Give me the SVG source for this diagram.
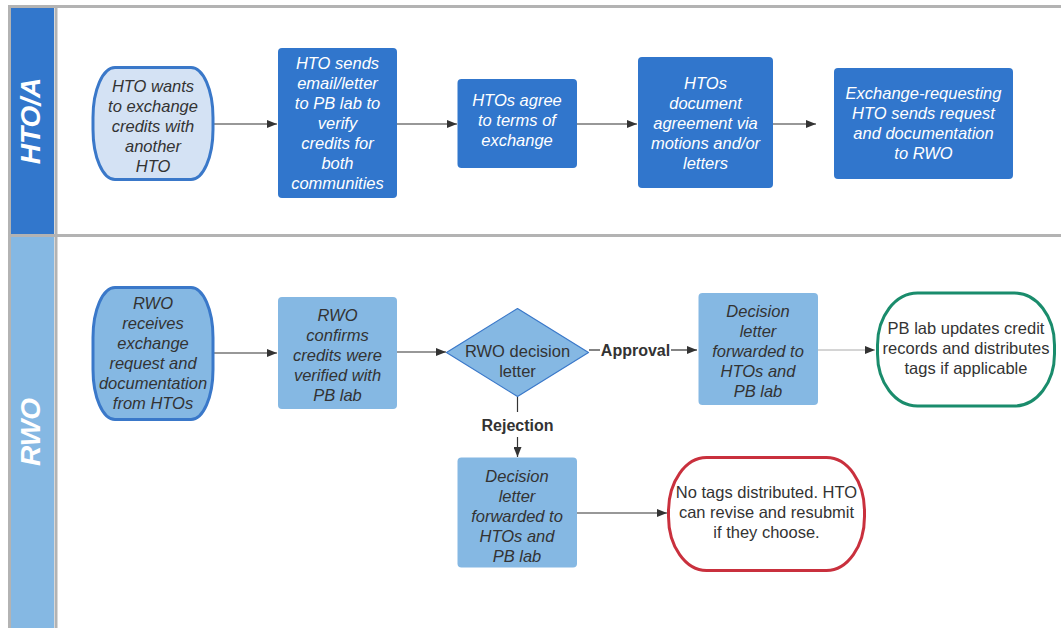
<svg xmlns="http://www.w3.org/2000/svg" width="1061" height="628" viewBox="0 0 1061 628">
<style>
.t{font-family:"Liberation Sans",Arial,sans-serif;font-size:16.5px;text-anchor:middle}
.i{font-style:italic}
.w{fill:#ffffff}
.d{fill:#333333}
.lab{font-family:"Liberation Sans",Arial,sans-serif;font-size:16px;font-weight:bold;fill:#333333;text-anchor:middle}
.hdr{font-family:"Liberation Sans",Arial,sans-serif;font-size:28px;font-weight:bold;font-style:italic;fill:#ffffff;text-anchor:middle}
.dark{fill:#3176cc}
.light{fill:#85b8e3}
.c{stroke:#333333;stroke-width:1.2;fill:none}
</style>
<defs>
<marker id="ah" viewBox="0 0 10 8" refX="10" refY="4" markerWidth="10" markerHeight="8" markerUnits="userSpaceOnUse" orient="auto">
<path d="M0,0 L10,4 L0,8 Z" fill="#333333"/>
</marker>
</defs>
<rect width="1061" height="628" fill="#ffffff"/>
<g id="lanes">
<rect x="9.5" y="6.5" width="1060" height="640" fill="none" stroke="#b3b3b3" stroke-width="3"/>
<rect x="11" y="8" width="43" height="226" fill="#3277cc"/>
<rect x="11" y="237" width="43" height="400" fill="#85b8e3"/>
<line x1="56" y1="8" x2="56" y2="628" stroke="#b3b3b3" stroke-width="3"/>
<line x1="9" y1="235.5" x2="1061" y2="235.5" stroke="#b3b3b3" stroke-width="3"/>
<text class="hdr" transform="translate(40,121) rotate(-90)">HTO/A</text>
<text class="hdr" transform="translate(40,432) rotate(-90)">RWO</text>
</g>
<g id="connectors">
<line class="c" x1="213" y1="124" x2="277" y2="124" marker-end="url(#ah)"/>
<line class="c" x1="397" y1="124" x2="457" y2="124" marker-end="url(#ah)"/>
<line class="c" x1="577" y1="124" x2="637" y2="124" marker-end="url(#ah)"/>
<line class="c" x1="773" y1="124" x2="816" y2="124" marker-end="url(#ah)"/>
<line class="c" x1="213" y1="353" x2="277" y2="353" marker-end="url(#ah)"/>
<line class="c" x1="397" y1="352" x2="446" y2="352" marker-end="url(#ah)"/>
<line class="c" x1="589" y1="350" x2="600" y2="350"/>
<line class="c" x1="671" y1="350" x2="697" y2="350" marker-end="url(#ah)"/>
<text class="lab" x="635.5" y="356">Approval</text>
<line x1="818" y1="350" x2="875" y2="350" stroke="#aaaaaa" stroke-width="1" marker-end="url(#ah)"/>
<line class="c" x1="517.5" y1="397" x2="517.5" y2="412"/>
<text class="lab" x="517.5" y="431">Rejection</text>
<line class="c" x1="517.5" y1="437" x2="517.5" y2="457" marker-end="url(#ah)"/>
<line class="c" x1="577" y1="513" x2="667" y2="513" marker-end="url(#ah)"/>
</g>
<g id="n1">
<rect x="93" y="67.5" width="120" height="112" rx="22" ry="50" fill="#d4e2f4" stroke="#3a78c9" stroke-width="3"/>
<text class="t i d" x="153" y="92">HTO wants<tspan x="153" dy="20">to exchange</tspan><tspan x="153" dy="20">credits with</tspan><tspan x="153" dy="20">another</tspan><tspan x="153" dy="20">HTO</tspan></text>
</g>
<g id="n2">
<rect class="dark" x="278" y="48" width="119" height="150" rx="4"/>
<text class="t i w" x="337.5" y="69">HTO sends<tspan x="337.5" dy="20">email/letter</tspan><tspan x="337.5" dy="20">to PB lab to</tspan><tspan x="337.5" dy="20">verify</tspan><tspan x="337.5" dy="20">credits for</tspan><tspan x="337.5" dy="20">both</tspan><tspan x="337.5" dy="20">communities</tspan></text>
</g>
<g id="n3">
<rect class="dark" x="457.5" y="79" width="119.5" height="89" rx="4"/>
<text class="t i w" x="517" y="106">HTOs agree<tspan x="517" dy="20">to terms of</tspan><tspan x="517" dy="20">exchange</tspan></text>
</g>
<g id="n4">
<rect class="dark" x="638" y="57" width="135" height="131" rx="4"/>
<text class="t i w" x="705.5" y="89">HTOs<tspan x="705.5" dy="20">document</tspan><tspan x="705.5" dy="20">agreement via</tspan><tspan x="705.5" dy="20">motions and/or</tspan><tspan x="705.5" dy="20">letters</tspan></text>
</g>
<g id="n5">
<rect class="dark" x="834" y="68" width="179" height="111" rx="4"/>
<text class="t i w" x="923.5" y="99">Exchange-requesting<tspan x="923.5" dy="20">HTO sends request</tspan><tspan x="923.5" dy="20">and documentation</tspan><tspan x="923.5" dy="20">to RWO</tspan></text>
</g>
<g id="n6">
<rect x="93" y="287.5" width="120" height="132" rx="22" ry="50" fill="#85b8e3" stroke="#3a78c9" stroke-width="3"/>
<text class="t i d" x="153" y="309">RWO<tspan x="153" dy="20">receives</tspan><tspan x="153" dy="20">exchange</tspan><tspan x="153" dy="20">request and</tspan><tspan x="153" dy="20">documentation</tspan><tspan x="153" dy="20">from HTOs</tspan></text>
</g>
<g id="n7">
<rect class="light" x="278" y="297" width="119" height="112" rx="4"/>
<text class="t i d" x="337.5" y="321">RWO<tspan x="337.5" dy="20">confirms</tspan><tspan x="337.5" dy="20">credits were</tspan><tspan x="337.5" dy="20">verified with</tspan><tspan x="337.5" dy="20">PB lab</tspan></text>
</g>
<g id="n8">
<path d="M517.5,308.5 L588.5,352.5 L517.5,396.5 L446.5,352.5 Z" fill="#85b8e3" stroke="#3a78c9" stroke-width="1.2" stroke-linejoin="round"/>
<text class="t d" x="517.5" y="357">RWO decision<tspan x="517.5" dy="20">letter</tspan></text>
</g>
<g id="n9">
<rect class="light" x="698.5" y="293" width="119.5" height="112" rx="4"/>
<text class="t i d" x="758" y="317">Decision<tspan x="758" dy="20">letter</tspan><tspan x="758" dy="20">forwarded to</tspan><tspan x="758" dy="20">HTOs and</tspan><tspan x="758" dy="20">PB lab</tspan></text>
</g>
<g id="n10">
<rect x="877.5" y="293" width="177" height="113" rx="40" ry="52" fill="#ffffff" stroke="#1a8c6c" stroke-width="3"/>
<text class="t d" x="966" y="334">PB lab updates credit<tspan x="966" dy="20">records and distributes</tspan><tspan x="966" dy="20">tags if applicable</tspan></text>
</g>
<g id="n11">
<rect class="light" x="457.5" y="457.5" width="119.5" height="110" rx="4"/>
<text class="t i d" x="517" y="482">Decision<tspan x="517" dy="20">letter</tspan><tspan x="517" dy="20">forwarded to</tspan><tspan x="517" dy="20">HTOs and</tspan><tspan x="517" dy="20">PB lab</tspan></text>
</g>
<g id="n12">
<rect x="668.5" y="457.5" width="196" height="113" rx="38" ry="54" fill="#ffffff" stroke="#c9303d" stroke-width="3"/>
<text class="t d" x="766.5" y="498">No tags distributed. HTO<tspan x="766.5" dy="20">can revise and resubmit</tspan><tspan x="766.5" dy="20">if they choose.</tspan></text>
</g>
</svg>
